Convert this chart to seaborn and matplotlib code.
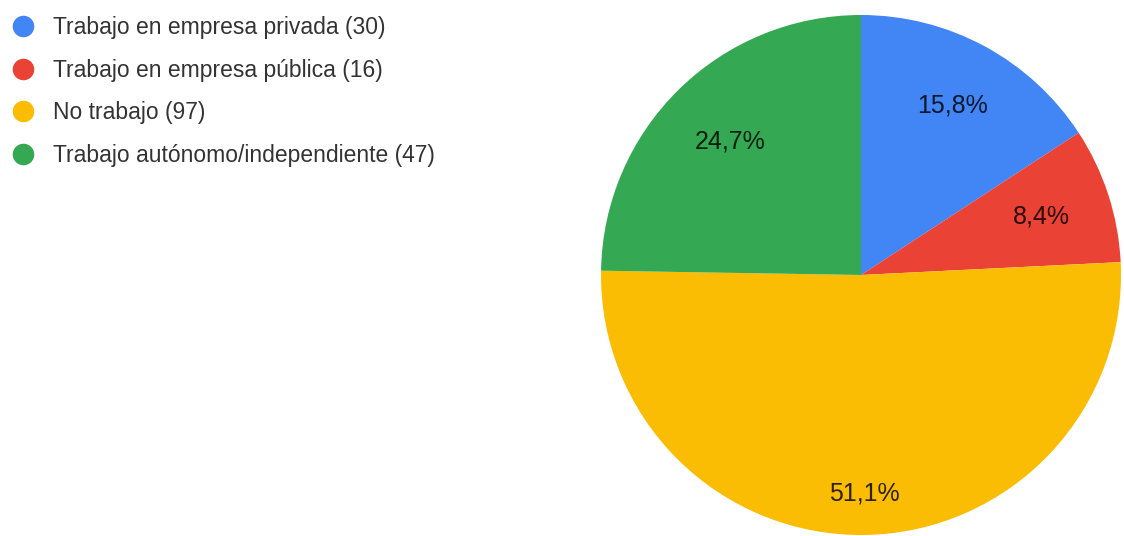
import matplotlib
matplotlib.use("Agg")
import matplotlib.pyplot as plt
from matplotlib.lines import Line2D
import numpy as np
import seaborn as sns

categories = [
    "Trabajo en empresa privada",
    "Trabajo en empresa pública",
    "No trabajo",
    "Trabajo autónomo/independiente",
]
counts = [30, 16, 97, 47]
colors = ["#4285F4", "#EA4335", "#FBBC04", "#34A853"]

sns.set_theme(style="white")
plt.rcParams["font.family"] = ["Liberation Sans", "DejaVu Sans"]

W, H, DPI = 1124, 536, 100
fig = plt.figure(figsize=(W / DPI, H / DPI), dpi=DPI)
fig.patch.set_facecolor("white")

# pie axes placed in pixel space: centre (861, 275), radius 260
cx, cy, R = 861, 275, 260
ax = fig.add_axes([(cx - R) / W, (H - cy - R) / H, 2 * R / W, 2 * R / H])

total = sum(counts)
wedges, _ = ax.pie(
    counts,
    colors=colors,
    startangle=90,
    counterclock=False,
    radius=1.0,
    wedgeprops=dict(linewidth=0),
)
ax.set_xlim(-1, 1)
ax.set_ylim(-1, 1)
ax.set_aspect("equal")
ax.axis("off")

# percentage labels inside each slice
label_r = [0.74, 0.73, 0.84, 0.72]
for w, c, r in zip(wedges, counts, label_r):
    theta = np.deg2rad((w.theta1 + w.theta2) / 2)
    pct = f"{100 * c / total:.1f}%".replace(".", ",")
    ax.text(r * np.cos(theta), r * np.sin(theta), pct,
            ha="center", va="center", fontsize=18,
            color="black", alpha=0.82)

# legend with circular markers
handles = [
    Line2D([0], [0], marker="o", linestyle="none", markersize=14.5,
           markerfacecolor=col, markeredgecolor=col)
    for col in colors
]
labels = [f"{name} ({n})" for name, n in zip(categories, counts)]
fig.legend(
    handles, labels,
    loc="upper left",
    bbox_to_anchor=(0 / W, 1 - 7 / H),
    frameon=False,
    fontsize=16.5,
    labelcolor="#333333",
    handletextpad=0.7,
    labelspacing=0.85,
    handlelength=1.2,
    borderaxespad=0,
)

fig.savefig("out.png", dpi=DPI, facecolor="white")
